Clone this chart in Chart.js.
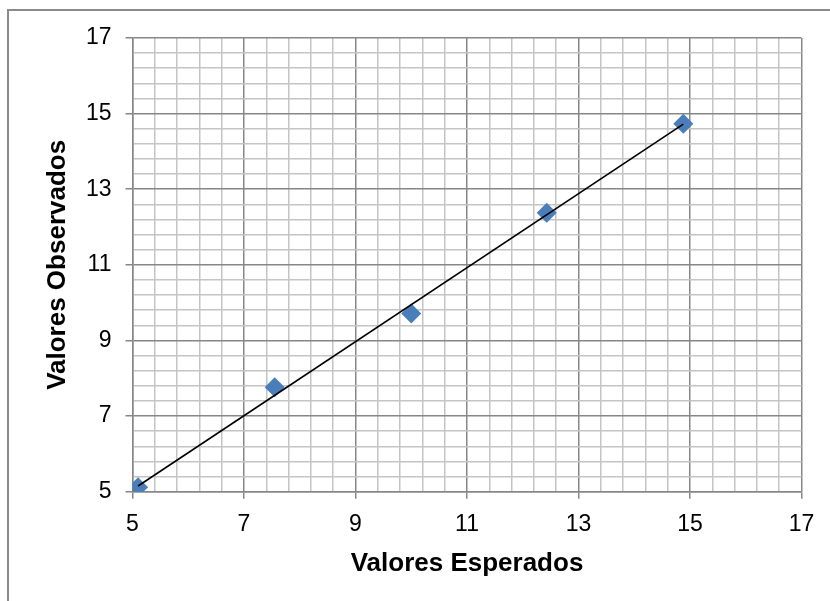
<!DOCTYPE html>
<html>
<head>
<meta charset="utf-8">
<script src="https://cdn.jsdelivr.net/npm/chart.js@4/dist/chart.umd.min.js"></script>
<style>
  html, body { margin: 0; padding: 0; background: #ffffff; }
  #wrap { width: 830px; height: 601px; position: relative; }
</style>
</head>
<body>
<div id="wrap"><canvas id="c" width="830" height="601"></canvas></div>
<script>
// Data
const expectedValues = [5.1, 7.55, 10.0, 12.43, 14.88];
const observedValues = [5.12, 7.76, 9.71, 12.38, 14.73];
// Trendline endpoints
const trendX = [5.1, 14.88];
const trendY = [5.15, 14.72];
// Axis settings
const axisMin = 5;
const axisMax = 17;
const majorTickLabels = [5, 7, 9, 11, 13, 15, 17];
const minorDivisions = 5; // minor grid lines per major interval

const xTitle = 'Valores Esperados';
const yTitle = 'Valores Observados';

function buildGridValues() {
  const vals = [];
  for (let i = 0; i < majorTickLabels.length - 1; i++) {
    const a = majorTickLabels[i], b = majorTickLabels[i + 1];
    for (let k = 0; k < minorDivisions; k++) {
      vals.push(a + (b - a) * k / minorDivisions);
    }
  }
  vals.push(majorTickLabels[majorTickLabels.length - 1]);
  return vals;
}
const gridValues = buildGridValues();
function isMajor(v) {
  return majorTickLabels.some(m => Math.abs(m - v) < 1e-6);
}

const MAJOR = '#878787';
const MINOR = '#c4c4c4';

const frame = {
  id: 'frame',
  beforeDraw(chart) {
    const ctx = chart.ctx;
    ctx.save();
    ctx.fillStyle = '#ffffff';
    ctx.fillRect(0, 0, chart.width, chart.height);
    ctx.strokeStyle = '#8a8a8a';
    ctx.lineWidth = 2;
    ctx.strokeRect(8, 10, 900, 700);
    ctx.restore();
  }
};

function axisCommon(titleText, titlePadding) {
  return {
    type: 'linear',
    min: axisMin,
    max: axisMax,
    afterBuildTicks(scale) {
      scale.ticks = gridValues.map(v => ({ value: v }));
    },
    ticks: {
      autoSkip: false,
      maxRotation: 0,
      color: '#000000',
      font: { family: '"Liberation Sans", Arial, sans-serif', size: 23 },
      callback(v) { return isMajor(v) ? String(Math.round(v)) : ''; }
    },
    grid: {
      color: c => (c.tick && isMajor(c.tick.value)) ? MAJOR : MINOR,
      lineWidth: 1.5,
      drawTicks: true,
      tickLength: 7,
      tickColor: c => (c.tick && isMajor(c.tick.value)) ? MAJOR : 'rgba(0,0,0,0)',
      tickWidth: 1.5
    },
    border: { display: true, color: MAJOR, width: 1.5 },
    title: {
      display: true,
      text: titleText,
      color: '#000000',
      font: { family: '"Liberation Sans", Arial, sans-serif', size: 26, weight: 'bold' },
      padding: titlePadding
    }
  };
}

const xScale = axisCommon(xTitle, { top: 0, bottom: 22 });
xScale.position = 'bottom';
xScale.ticks.padding = 12;
xScale.afterFit = function (scale) { scale.height = 109.3; };

const yScale = axisCommon(yTitle, { top: 42, bottom: 0 });
yScale.position = 'left';
yScale.ticks.padding = 14;
yScale.afterFit = function (scale) { scale.width = 132.5; };

new Chart(document.getElementById('c'), {
  type: 'scatter',
  data: {
    datasets: [
      {
        label: 'Observados',
        data: expectedValues.map((x, i) => ({ x: x, y: observedValues[i] })),
        pointStyle: 'rectRot',
        pointRadius: 10,
        pointHoverRadius: 10,
        backgroundColor: '#4a7ebb',
        borderColor: '#4a7ebb',
        borderWidth: 0,
        showLine: false,
        order: 2
      },
      {
        label: 'Tendencia',
        data: trendX.map((x, i) => ({ x: x, y: trendY[i] })),
        showLine: true,
        borderColor: '#000000',
        borderWidth: 1.6,
        pointRadius: 0,
        fill: false,
        order: 1
      }
    ]
  },
  options: {
    responsive: false,
    animation: false,
    devicePixelRatio: 1,
    layout: { padding: { left: 0, top: 38, right: 28.5, bottom: 0 } },
    plugins: {
      legend: { display: false },
      tooltip: { enabled: false }
    },
    scales: { x: xScale, y: yScale }
  },
  plugins: [frame]
});
</script>
</body>
</html>
